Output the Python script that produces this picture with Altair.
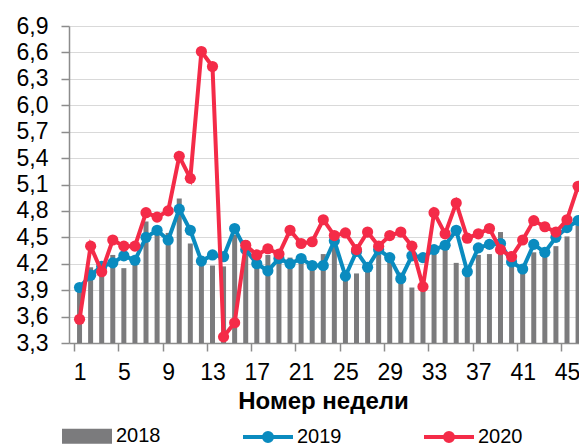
import math
import altair as alt
import pandas as pd

weeks = list(range(1, 47))

v2018 = [3.90, 4.16, 4.22, 4.30, 4.15, 4.22, 4.68, 4.62, 4.55, 4.94,
         4.43, 4.27, 4.18, 4.17, 4.53, 4.47, 4.25, 4.30, 4.32, 4.27,
         4.28, 4.18, 4.31, 4.50, 4.12, 4.09, 4.20, 4.30, 4.28, 4.10,
         3.93, 3.90, 4.35, 4.45, 4.21, 4.10, 4.30, 4.31, 4.56, 4.28,
         4.15, 4.33, 4.30, 4.40, 4.51, 4.63]

v2019 = [3.93, 4.07, 4.17, 4.21, 4.29, 4.24, 4.50, 4.58, 4.47, 4.82,
         4.58, 4.23, 4.30, 4.28, 4.60, 4.36, 4.20, 4.12, 4.26, 4.20,
         4.26, 4.18, 4.18, 4.46, 4.06, 4.34, 4.16, 4.36, 4.27, 4.03,
         4.29, 4.27, 4.36, 4.41, 4.58, 4.11, 4.38, 4.42, 4.43, 4.22,
         4.14, 4.42, 4.33, 4.50, 4.61, 4.69]

v2020 = [3.57, 4.40, 4.11, 4.47, 4.40, 4.40, 4.78, 4.73, 4.80, 5.42,
         5.17, 6.61, 6.44, 3.37, 3.53, 4.41, 4.30, 4.37, 4.31, 4.58,
         4.43, 4.45, 4.70, 4.52, 4.55, 4.36, 4.56, 4.40, 4.52, 4.56,
         4.40, 3.94, 4.78, 4.54, 4.89, 4.49, 4.54, 4.60, 4.36, 4.28,
         4.47, 4.69, 4.62, 4.56, 4.70, 5.08]

series_names = ["2018", "2019", "2020"]
series_colors = ["#7b7b7d", "#0a8bbf", "#f42b48"]
x_tick_values = list(range(1, 47, 4))
y_tick_values = [round(3.3 + 0.3 * i, 1) for i in range(13)]

rows = []
for name, vals in zip(series_names, [v2018, v2019, v2020]):
    for w, v in zip(weeks, vals):
        rows.append({"week": w, "series": name, "value": v})
df = pd.DataFrame(rows)

FONT = "Liberation Sans"
STEP = 11.3            # pixels per week in the reference
W, H = 510, 317        # plot area (the reference is cropped at the right edge)
x_max = 0.5 + W / STEP

color_scale = alt.Scale(domain=series_names, range=series_colors)


# legend symbol paths (unit coordinates, scaled by sqrt(size)/2 = 25 px)
def poly(r, n):
    pts = [(r * math.cos(2 * math.pi * k / n), r * math.sin(2 * math.pi * k / n)) for k in range(n)]
    return "M" + "L".join(f"{x:.4f},{y:.4f}" for x, y in pts) + "Z"


rect_path = "".join(f"M-1,{y}H1" for y in (-0.22, -0.08, 0.08, 0.22))
line_dot_path = "M-1,0H1" + poly(0.16, 16) + poly(0.05, 8)
shape_scale = alt.Scale(domain=series_names, range=[rect_path, line_dot_path, line_dot_path])

x_enc = alt.X(
    "week:Q",
    scale=alt.Scale(domain=[0.5, x_max], nice=False, zero=False),
    axis=alt.Axis(
        values=x_tick_values, title="Номер недели", grid=False,
        tickOffset=-STEP / 2, labelOffset=STEP / 2,
        tickSize=8, tickColor="#8c8c8c", tickWidth=1.5,
        domainColor="#8c8c8c", domainWidth=1.5,
        labelFont=FONT, labelFontSize=23, labelColor="#000000", labelPadding=10,
        labelFlush=False, labelOverlap=False,
        titleFont=FONT, titleFontSize=24, titleFontWeight="bold", titleColor="#000000",
        titlePadding=5, titleX=254,
    ),
)
y_enc = alt.Y(
    "value:Q",
    scale=alt.Scale(domain=[3.3, 6.9], nice=False, zero=False),
    axis=alt.Axis(
        values=y_tick_values, title=None, grid=True, gridColor="#d9d9d9", gridWidth=1,
        labelExpr="replace(format(datum.value, '.1f'), '.', ',')",
        tickSize=8, tickColor="#8c8c8c", tickWidth=1.5,
        domainColor="#8c8c8c", domainWidth=1.5,
        labelFont=FONT, labelFontSize=23, labelColor="#000000", labelPadding=13,
        labelFlush=False, labelOverlap=False,
    ),
)

base = alt.Chart(df)

bars = base.transform_filter(alt.datum.series == "2018").mark_bar(
    size=5, color=series_colors[0]
).encode(x=x_enc, y=y_enc, y2=alt.datum(3.3))


def line_layer(name, color):
    sub = base.transform_filter(alt.datum.series == name)
    ln = sub.mark_line(strokeWidth=4, color=color).encode(x=x_enc, y=y_enc)
    pt = sub.mark_circle(size=125, opacity=1, color=color).encode(x=x_enc, y=y_enc)
    return [ln, pt]


legend_props = dict(
    title=None, orient="none", legendX=-9, legendY=383, direction="horizontal",
    symbolSize=2500, symbolStrokeWidth=4, symbolOpacity=1,
    labelFont=FONT, labelFontSize=20, labelColor="#000000", labelOffset=2,
    columnPadding=74, padding=0,
)

legend_layer = base.transform_filter("false").mark_point(filled=False, opacity=1).encode(
    color=alt.Color("series:N", scale=color_scale, legend=alt.Legend(**legend_props)),
    shape=alt.Shape("series:N", scale=shape_scale, legend=alt.Legend(**legend_props)),
)

chart = alt.layer(
    legend_layer, bars,
    *line_layer("2019", series_colors[1]),
    *line_layer("2020", series_colors[2]),
).properties(
    width=W, height=H,
    autosize=alt.AutoSizeParams(type="none"),
    padding={"left": 61, "top": 18, "right": 0, "bottom": 110},
    background="#ffffff",
).configure_view(stroke=None)

chart.save("out.html", embed_options={"renderer": "svg", "actions": False})
